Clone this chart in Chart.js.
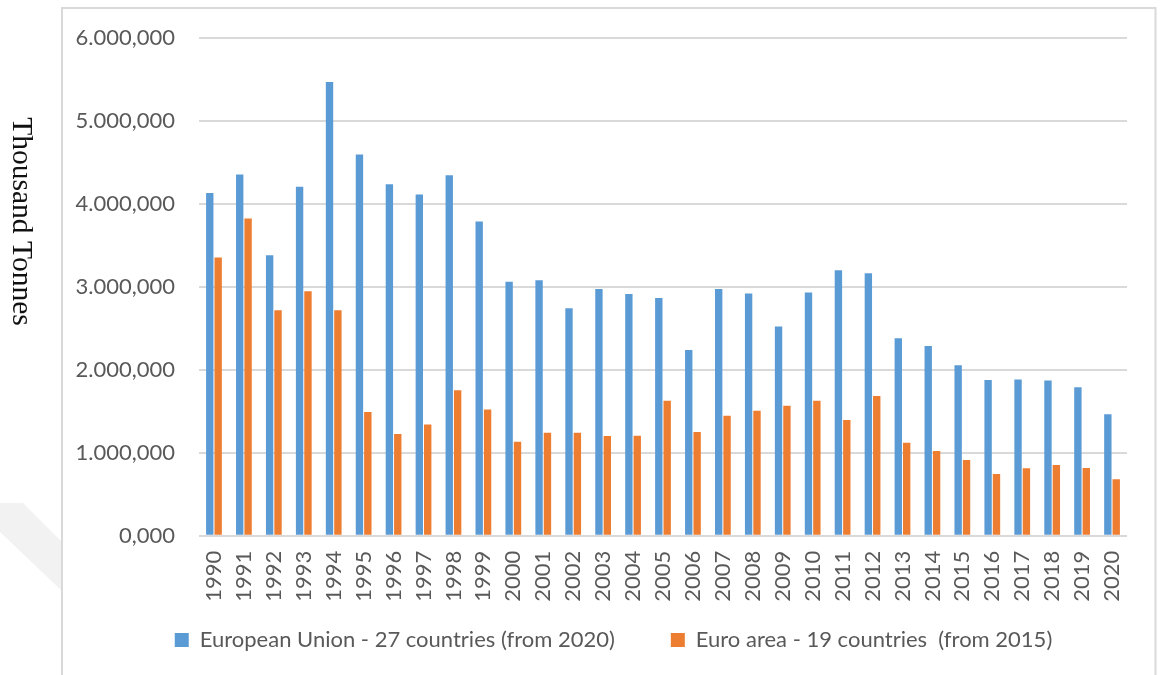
<!DOCTYPE html>
<html>
<head>
<meta charset="utf-8">
<script src="https://cdn.jsdelivr.net/npm/chart.js@4.4.1/dist/chart.umd.min.js"></script>
<style>
  html, body { margin: 0; padding: 0; background: #ffffff; }
  #wrap { width: 1160px; height: 675px; position: relative; }
</style>
</head>
<body>
<div id="wrap"><canvas id="chart" width="1160" height="675"></canvas></div>
<script>
// Years on the category axis
const years = ['1990','1991','1992','1993','1994','1995','1996','1997','1998','1999',
  '2000','2001','2002','2003','2004','2005','2006','2007','2008','2009',
  '2010','2011','2012','2013','2014','2015','2016','2017','2018','2019','2020'];

// Thousand tonnes per year
const euValues = [4128, 4349, 3378, 4204, 5463, 4590, 4232, 4108, 4341, 3783,
  3057, 3077, 2740, 2972, 2912, 2864, 2235, 2972, 2917, 2520,
  2929, 3197, 3161, 2379, 2286, 2054, 1874, 1882, 1870, 1789, 1464];
const euroAreaValues = [3350, 3819, 2716, 2945, 2716, 1489, 1224, 1340, 1753, 1521,
  1131, 1240, 1240, 1200, 1203, 1625, 1248, 1444, 1504, 1564,
  1625, 1392, 1681, 1119, 1019, 911, 742, 811, 851, 815, 679];

const seriesNames = ['European Union - 27 countries (from 2020)', 'Euro area - 19 countries  (from 2015)'];
const axisTitle = 'Thousand Tonnes';
const yMin = 0, yMax = 6000, yStep = 1000;

// 6000 -> "6.000,000"
function formatTick(v) {
  const whole = Math.round(v).toString().replace(/\B(?=(\d{3})+(?!\d))/g, '.');
  return whole + ',000';
}

const frameAndTitle = {
  id: 'frameAndTitle',
  beforeDraw(chart) {
    const ctx = chart.ctx;
    ctx.save();
    // faint diagonal band at the lower left
    ctx.fillStyle = '#f2f2f2';
    ctx.beginPath();
    ctx.moveTo(0, 503);
    ctx.lineTo(23, 503);
    ctx.lineTo(61, 541);
    ctx.lineTo(61, 590);
    ctx.lineTo(0, 532);
    ctx.closePath();
    ctx.fill();
    // chart frame
    ctx.strokeStyle = '#d9d9d9';
    ctx.lineWidth = 2;
    ctx.strokeRect(62, 8, 1155.5 - 62, 720);
    ctx.restore();
  },
  afterDraw(chart) {
    const ctx = chart.ctx;
    ctx.save();
    ctx.translate(13.3, 221.5);
    ctx.rotate(Math.PI / 2);
    ctx.font = '29.5px "Liberation Serif", "DejaVu Serif", serif';
    ctx.fillStyle = '#111111';
    ctx.textAlign = 'center';
    ctx.textBaseline = 'alphabetic';
    ctx.fillText(axisTitle, 0, 0);
    ctx.restore();
  }
};

const font = { family: 'Lato, "Liberation Sans", sans-serif', size: 22 };

new Chart(document.getElementById('chart'), {
  type: 'bar',
  data: {
    labels: years,
    datasets: [
      { label: seriesNames[0], data: euValues, backgroundColor: '#5B9BD5',
        barPercentage: 0.88, categoryPercentage: 0.56 },
      { label: seriesNames[1], data: euroAreaValues, backgroundColor: '#ED7D31',
        barPercentage: 0.88, categoryPercentage: 0.56 }
    ]
  },
  options: {
    responsive: false,
    animation: false,
    layout: { padding: { left: 67, right: 0, top: 37.5, bottom: 14 } },
    scales: {
      x: {
        grid: { display: false, drawTicks: false },
        border: { display: false },
        ticks: { autoSkip: false, minRotation: 90, maxRotation: 90, padding: 15,
                 color: '#595959', font: font },
        afterFit(scale) {
          scale.height = 37.3;
          // year labels run below the axis box, into the gap above the legend
          scale._computeLabelArea = () => undefined;
        }
      },
      y: {
        min: yMin, max: yMax,
        grid: { color: '#d9d9d9', lineWidth: 2, drawTicks: false },
        border: { display: false },
        ticks: { stepSize: yStep, padding: 24, color: '#595959', font: font,
                 callback: (v) => formatTick(v) },
        afterFit(scale) { scale.width = 132; }
      },
      yRight: {
        type: 'linear', position: 'right', display: true,
        grid: { display: false, drawTicks: false },
        border: { display: false },
        ticks: { display: false },
        afterFit(scale) { scale.width = 33; }
      }
    },
    plugins: {
      legend: {
        position: 'bottom',
        labels: { boxWidth: 14, boxHeight: 14, padding: 56, color: '#595959', font: font }
      },
      tooltip: { enabled: false }
    }
  },
  plugins: [frameAndTitle]
});
</script>
</body>
</html>
